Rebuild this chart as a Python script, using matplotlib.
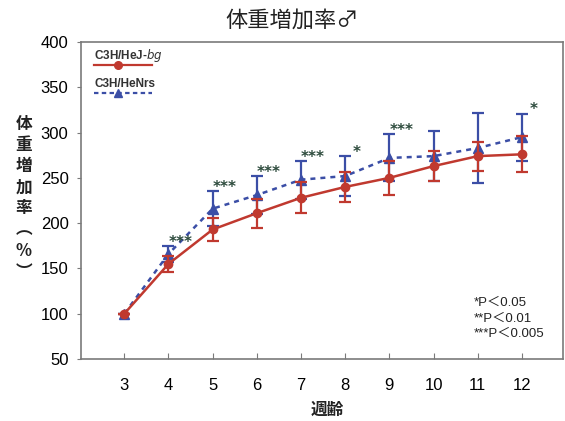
import matplotlib
matplotlib.use("Agg")
import matplotlib.pyplot as plt
import numpy as np

plt.rcParams['font.family'] = ['Liberation Sans', 'Noto Sans CJK JP', 'DejaVu Sans']

# Body weight gain (% of week-3 weight), mean and SD
weeks = [3, 4, 5, 6, 7, 8, 9, 10, 11, 12]
hej_mean = [100, 155, 193, 211, 228, 240, 250, 263, 274, 276]
hej_sd = [0, 9, 13, 16, 17, 17, 19, 17, 16, 20]
nrs_mean = [100, 166, 216, 231, 248, 252, 272, 274, 283, 295]
nrs_sd = [0, 9, 19, 21, 21, 22, 26, 28, 39, 26]
signif = ["", "***", "***", "***", "***", "*", "***", "", "", "*"]

yticks = [50, 100, 150, 200, 250, 300, 350, 400]

RED = "#c0392f"
BLUE = "#3b4ea6"
STAR = "#2c4a3c"
FRAME = "#7a7a7a"
CJK = ['Noto Sans CJK JP', 'DejaVu Sans']
LAT = ['Liberation Sans', 'Noto Sans CJK JP']

fig = plt.figure(figsize=(5.65, 4.21), dpi=100)
ax = fig.add_axes([0.1434, 0.1473, 0.8531, 0.7529])

ax.errorbar(weeks, nrs_mean, yerr=nrs_sd, color=BLUE, lw=1.8,
            linestyle=(0, (2, 2)), marker='^', ms=6.5, capsize=4,
            capthick=1.6, elinewidth=1.6, zorder=2)
ax.errorbar(weeks, hej_mean, yerr=hej_sd, color=RED, lw=1.8,
            marker='o', ms=6, capsize=4, capthick=1.6, elinewidth=1.6,
            zorder=3)

for w, m, s, lab in zip(weeks, nrs_mean, nrs_sd, signif):
    if lab:
        ax.text(w + 0.27, m + s + 4, lab, color=STAR, fontsize=11,
                family='DejaVu Sans', fontweight='bold',
                ha='center', va='center')

ax.set_xlim(2.02, 12.93)
ax.set_ylim(50, 400)
ax.set_xticks(weeks)
ax.set_yticks(yticks)
ax.tick_params(axis='x', direction='in', length=4, pad=14, labelsize=12,
               color=FRAME)
ax.tick_params(axis='y', direction='out', length=3, pad=6, labelsize=12,
               color=FRAME)
for sp in ax.spines.values():
    sp.set_color(FRAME)
    sp.set_linewidth(1.2)

# legend keys
ax.text(0.027, 0.956, "C3H/HeJ-$\\it{bg}$", transform=ax.transAxes,
        fontsize=8.5, fontweight='bold', color="#333333", va='center')
ax.plot([0.027, 0.147], [0.927, 0.927], transform=ax.transAxes,
        color=RED, lw=1.6)
ax.plot([0.077], [0.927], transform=ax.transAxes, marker='o', ms=5.5,
        color=RED)
ax.text(0.027, 0.868, "C3H/HeNrs", transform=ax.transAxes,
        fontsize=8.5, fontweight='bold', color="#333333", va='center')
ax.plot([0.027, 0.147], [0.839, 0.839], transform=ax.transAxes,
        color=BLUE, lw=1.6, linestyle=(0, (2, 1.5)))
ax.plot([0.077], [0.839], transform=ax.transAxes, marker='^', ms=6,
        color=BLUE)

# significance key
for i, t in enumerate(["*P＜0.05", "**P＜0.01", "***P＜0.005"]):
    ax.text(0.815, 0.177 - i * 0.049, t, transform=ax.transAxes,
            fontsize=9.5, family=LAT, color="#222222", va='center')

fig.text(0.517, 0.952, "体重増加率♂", family=CJK, fontsize=16,
         ha='center', va='center', color="#222222")
fig.text(0.579, 0.027, "週齢", family=CJK, fontsize=12, fontweight='bold',
         ha='center', va='center', color="#222222")
fig.text(0.042, 0.53, "体\n重\n増\n加\n率\n︵\n%\n︶", family=CJK,
         fontsize=12, fontweight='bold', ha='center', va='center',
         linespacing=1.22, color="#222222")

fig.savefig("out.png", dpi=100)
